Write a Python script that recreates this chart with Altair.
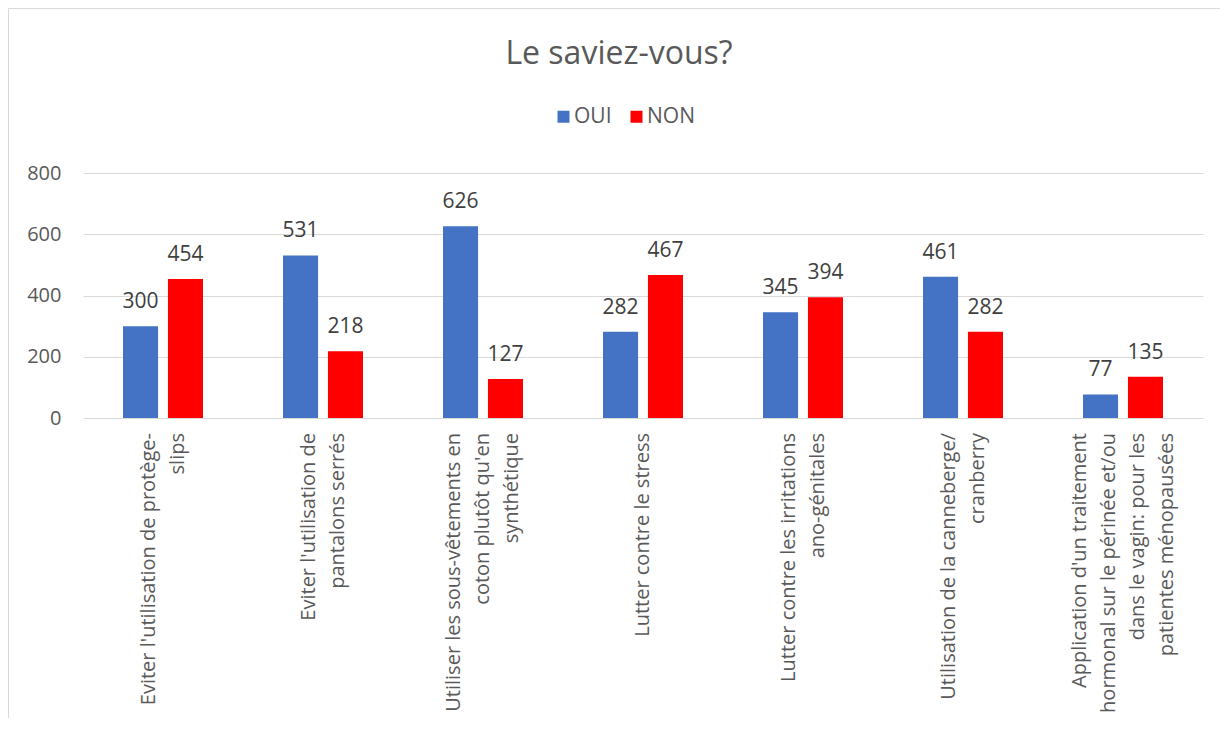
import altair as alt
import pandas as pd

categories = [
    "Eviter l'utilisation  de protège-|slips",
    "Eviter l'utilisation de|pantalons serrés",
    "Utiliser les sous-vêtements en|coton plutôt qu'en|synthétique",
    "Lutter contre le stress",
    "Lutter contre les irritations|ano-génitales",
    "Utilisation de la canneberge/|cranberry",
    "Application  d'un traitement|hormonal sur le périnée et/ou|dans le vagin: pour les|patientes ménopausées",
]
oui = [300, 531, 626, 282, 345, 461, 77]
non = [454, 218, 127, 467, 394, 282, 135]
series = ["OUI", "NON"]
colors = ["#4472C4", "#FF0000"]
y_ticks = [0, 200, 400, 600, 800]
title_text = "Le saviez-vous?"

rows = []
for c, o, n in zip(categories, oui, non):
    rows.append({"cat": c, "serie": "OUI", "val": o})
    rows.append({"cat": c, "serie": "NON", "val": n})
df = pd.DataFrame(rows)
cat_df = pd.DataFrame({"cat": categories})

FONT = "Open Sans"
TXT = "#595959"
LINE_H = 29

x_enc = alt.X(
    "cat:N",
    sort=categories,
    scale=alt.Scale(paddingInner=0.5, paddingOuter=0.25),
    axis=alt.Axis(
        title=None,
        labels=False,
        ticks=False,
        grid=False,
        domainColor="#D9D9D9",
        domainWidth=1,
    ),
)
xoff = alt.XOffset("serie:N", sort=series, scale=alt.Scale(paddingInner=0.22))
y_enc = alt.Y(
    "val:Q",
    scale=alt.Scale(domain=[0, 800]),
    axis=alt.Axis(
        title=None,
        values=y_ticks,
        labelFontSize=20,
        labelColor=TXT,
        labelFont=FONT,
        labelPadding=22,
        ticks=False,
        domain=False,
        gridColor="#D9D9D9",
        gridWidth=1,
    ),
)

base = alt.Chart(df)

bars = base.mark_bar().encode(
    x=x_enc,
    xOffset=xoff,
    y=y_enc,
    color=alt.Color(
        "serie:N",
        sort=series,
        scale=alt.Scale(domain=series, range=colors),
        legend=alt.Legend(
            title=None,
            orient="none",
            direction="horizontal",
            legendX=470,
            legendY=-67,
            symbolType="square",
            symbolSize=144,
            symbolStrokeWidth=0,
            labelFontSize=21,
            labelColor=TXT,
            labelFont=FONT,
            labelOffset=0,
            columnPadding=14,
            padding=0,
        ),
    ),
)

values_text = base.mark_text(
    dy=-18, baseline="alphabetic", fontSize=21, color="#404040", font=FONT
).encode(
    x=alt.X("cat:N", sort=categories),
    xOffset=alt.XOffset("serie:N", sort=series),
    y=alt.Y("val:Q"),
    text=alt.Text("val:Q"),
)

cat_labels = (
    alt.Chart(cat_df)
    .transform_calculate(lines="split(datum.cat, '|')")
    .mark_text(
        angle=270,
        align="right",
        baseline="middle",
        fontSize=20,
        lineHeight=LINE_H,
        color=TXT,
        font=FONT,
        dy=alt.ExprRef(expr=f"-(length(datum.lines) - 1) * {LINE_H / 2}"),
    )
    .encode(
        x=alt.X("cat:N", sort=categories, axis=None),
        y=alt.value(260),
        text=alt.Text("lines:N"),
    )
)

title_mark = (
    alt.Chart(alt.Data(values=[{"t": title_text}]))
    .mark_text(fontSize=32, color=TXT, font=FONT, baseline="alphabetic", align="center")
    .encode(x=alt.value(536), y=alt.value(-109), text=alt.Text("t:N"))
)

frame = alt.Chart(alt.Data(values=[{"f": 1}])).mark_rect(
    filled=False, stroke="#D9D9D9", strokeWidth=1
).encode(
    x=alt.value(-74.5), x2=alt.value(2000), y=alt.value(-164.5), y2=alt.value(2000)
)

chart = (
    alt.layer(frame, title_mark, bars, values_text, cat_labels)
    .properties(
        width=1120,
        height=245,
        padding={"left": 75, "top": 165, "right": 17, "bottom": 300},
        autosize=alt.AutoSizeParams(type="none"),
    )
    .configure_view(stroke=None)
)

chart.save("out.html", embed_options={"renderer": "svg", "actions": False})
